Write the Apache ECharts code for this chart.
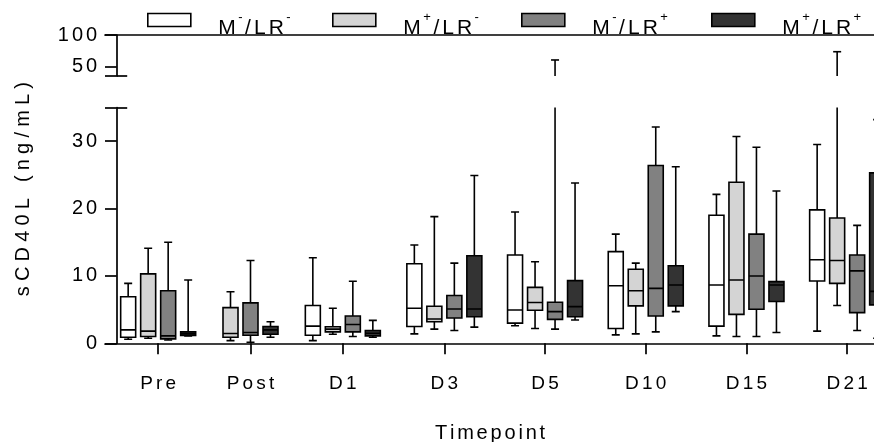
<!DOCTYPE html>
<html>
<head>
<meta charset="utf-8">
<script src="https://cdn.jsdelivr.net/npm/echarts@6/dist/echarts.min.js"></script>
<style>
html, body { margin: 0; padding: 0; background: #fff; }
#chart { width: 874px; height: 442px; }
</style>
</head>
<body>
<div id="chart"></div>
<script>
// categories
const timepoints = ['Pre', 'Post', 'D1', 'D3', 'D5', 'D10', 'D15', 'D21'];
const groupNames = ['M-/LR-', 'M+/LR-', 'M-/LR+', 'M+/LR+'];

// [min, q1, median, q3, max] per timepoint, null = no box
const mMinusLrMinus = [
  [0.6, 0.9, 2.0, 6.9, 8.9], null, [0.4, 1.2, 2.55, 5.6, 12.7], [1.4, 2.5, 5.2, 11.8, 14.6],
  [2.6, 3.0, 4.95, 13.1, 19.5], [1.25, 2.2, 8.55, 13.6, 16.2], [1.1, 2.55, 8.65, 19.0, 22.1], [1.8, 9.25, 12.4, 19.8, 29.5]
];
const mPlusLrMinus = [
  [0.75, 1.0, 1.8, 10.3, 14.1], [0.4, 0.9, 1.45, 5.3, 7.65], [1.35, 1.7, 2.1, 2.45, 5.2], [2.1, 3.2, 3.6, 5.5, 18.8],
  [2.2, 4.9, 6.05, 8.3, 12.1], [1.4, 5.55, 7.8, 11.0, 11.9], [1.0, 4.3, 9.4, 23.9, 30.7], [5.6, 8.9, 12.3, 18.6, 73.5]
];
const mMinusLrPlus = [
  [0.5, 0.65, 1.1, 7.8, 15.0], [0.15, 1.2, 1.6, 6.0, 12.3], [1.0, 1.7, 2.8, 4.05, 9.2], [1.9, 3.75, 5.1, 7.1, 11.9],
  [2.1, 3.55, 4.7, 6.1, 60.4], [1.7, 4.05, 8.15, 26.4, 32.1], [1.0, 5.05, 10.0, 16.2, 29.1], [1.9, 4.55, 10.75, 13.1, 17.5]
];
const mPlusLrPlus = [
  [1.1, 1.15, 1.4, 1.7, 9.4], [0.9, 1.35, 2.0, 2.5, 3.2], [0.9, 1.1, 1.5, 1.9, 3.4], [2.4, 3.95, 5.1, 13.0, 24.9],
  [3.45, 3.95, 5.45, 9.3, 23.8], [4.7, 5.55, 8.65, 11.5, 26.2], [1.6, 6.2, 8.65, 9.15, 22.6], [0.75, 5.7, 7.7, 25.3, 33.2]
];

// axis ticks (broken y axis)
const yLowTicks = [0, 10, 20, 30];
const yHighTicks = [50, 100];
const yLowRange = [0, 35];
const yHighRange = [35, 100];

const groups = [mMinusLrMinus, mPlusLrMinus, mMinusLrPlus, mPlusLrPlus];
const fills = ['#ffffff', '#d4d4d4', '#818181', '#333333'];
const FONT = '"Liberation Sans", Arial, sans-serif';
const LW = 1.6;
const BOX_STEP = 20;
const BOX_W = 15;
const CAP = 8;
const SPLIT = 3; // Pre, Post, D1 sit a bit closer together

// wrap each character in a rich token to get the wide letter spacing
function spaced(text, tok) {
  return text.split('').map(ch => '{' + tok + '|' + ch + '}').join('');
}
function legendText(name) {
  let out = '';
  name.split('').forEach((ch, i) => {
    const sup = (ch === '-' || ch === '+') && i > 0 && /[MR]/.test(name[i - 1]);
    out += '{' + (sup ? 's' : 'c') + '|' + ch + '}';
  });
  return out;
}
const richChar = (size, pad) => ({ fontSize: size, fontFamily: FONT, color: '#000', padding: [0, pad, 0, pad] });

function drawBox(g, base, params, api) {
  const i = api.value(0);
  const members = [];
  groups.forEach((arr, k) => { if (arr[base + i]) members.push(k); });
  const shift = (members.indexOf(g) - (members.length - 1) / 2) * BOX_STEP;
  const x = api.coord([i, 0])[0] + shift;
  const [yMin, yQ1, yMed, yQ3, yMax] = [1, 2, 3, 4, 5].map(d => api.coord([i, api.value(d)])[1]);
  const st = { stroke: '#000', lineWidth: LW, fill: null };
  const line = (x1, y1, x2, y2) => ({ type: 'line', shape: { x1, y1, x2, y2 }, style: st });
  return {
    type: 'group',
    children: [
      line(x, yQ3, x, yMax),
      line(x - CAP / 2, yMax, x + CAP / 2, yMax),
      line(x, yQ1, x, yMin),
      line(x - CAP / 2, yMin, x + CAP / 2, yMin),
      {
        type: 'rect',
        shape: { x: x - BOX_W / 2, y: yQ3, width: BOX_W, height: yQ1 - yQ3 },
        style: { fill: fills[g], stroke: '#000', lineWidth: LW }
      },
      line(x - BOX_W / 2, yMed, x + BOX_W / 2, yMed)
    ]
  };
}

function boxSeries(g, part, low) {
  const base = part === 0 ? 0 : SPLIT;
  const cats = part === 0 ? timepoints.slice(0, SPLIT) : timepoints.slice(SPLIT);
  const data = [];
  cats.forEach((c, i) => {
    const v = groups[g][base + i];
    if (v) data.push([i].concat(v));
  });
  const idx = part + (low ? 0 : 2);
  return {
    type: 'custom',
    name: groupNames[g],
    xAxisIndex: idx,
    yAxisIndex: idx,
    clip: true,
    silent: true,
    itemStyle: { color: fills[g], borderColor: '#000', borderWidth: LW },
    encode: { x: 0, y: [1, 2, 3, 4, 5] },
    renderItem: (params, api) => drawBox(g, base, params, api),
    data
  };
}

const series = [];
[true, false].forEach(low => [0, 1].forEach(part => groups.forEach((arr, g) => series.push(boxSeries(g, part, low)))));

const axisLine = { show: true, lineStyle: { color: '#000', width: 1.7 } };
const noAxis = { show: false };

function catAxis(gridIndex, cats, shown) {
  return {
    type: 'category', gridIndex, data: cats,
    axisLine: noAxis,
    axisTick: shown ? { show: true, alignWithLabel: true, interval: 0, length: 11, lineStyle: { color: '#000', width: 1.7 } } : noAxis,
    axisLabel: shown ? {
      show: true, interval: 0, margin: 31, formatter: v => spaced(v, 't'),
      rich: { t: richChar(19, 1.6) }
    } : noAxis,
    splitLine: noAxis
  };
}
function valAxis(gridIndex, range, ticks, labels, shown) {
  return {
    type: 'value', gridIndex, position: 'left', min: range[0], max: range[1], offset: -4.7,
    show: shown,
    axisLine: axisLine,
    axisTick: { show: true, customValues: ticks, length: 11.7, lineStyle: { color: '#000', width: 1.7 } },
    axisLabel: {
      show: true, customValues: labels, margin: 18,
      formatter: v => spaced(String(v), 't'), rich: { t: richChar(20, 1.5) }
    },
    splitLine: noAxis
  };
}
function breakAxis(gridIndex, range) {
  return {
    type: 'value', gridIndex, position: 'left', min: range[0], max: range[1], offset: -4.7,
    axisLine: noAxis, axisLabel: noAxis, splitLine: noAxis,
    axisTick: { show: true, inside: true, customValues: [35], length: 10.5, lineStyle: { color: '#000', width: 1.7 } }
  };
}

const legendLeft = [147, 332, 521, 711];

const option = {
  animation: false,
  backgroundColor: '#fff',
  textStyle: { fontFamily: FONT },
  grid: [
    { left: 112, top: 107.5, width: 277, height: 235.8 },
    { left: 394, top: 107.5, width: 503.5, height: 235.8 },
    { left: 112, top: 35, width: 277, height: 41 },
    { left: 394, top: 35, width: 503.5, height: 41 },
    { left: 105, top: 35, right: -1, height: 308.3 }
  ].map(g => Object.assign({ containLabel: false, outerBoundsMode: 'none' }, g)),
  xAxis: [
    catAxis(0, timepoints.slice(0, SPLIT), true),
    catAxis(1, timepoints.slice(SPLIT), true),
    catAxis(2, timepoints.slice(0, SPLIT), false),
    catAxis(3, timepoints.slice(SPLIT), false),
    {
      type: 'value', gridIndex: 4, min: 0, max: 1, position: 'bottom',
      axisLine: axisLine, axisTick: noAxis, axisLabel: noAxis, splitLine: noAxis,
      name: spaced('Timepoint', 't'), nameLocation: 'middle', nameGap: 80,
      nameTextStyle: { rich: { t: richChar(20, 1.4) } }
    },
    {
      type: 'value', gridIndex: 4, min: 0, max: 1, position: 'top',
      axisLine: axisLine, axisTick: noAxis, axisLabel: noAxis, splitLine: noAxis
    }
  ],
  yAxis: [
    valAxis(0, yLowRange, yLowTicks.concat([35]), yLowTicks, true),
    valAxis(1, yLowRange, [], [], false),
    valAxis(2, yHighRange, [35].concat(yHighTicks), yHighTicks, true),
    valAxis(3, yHighRange, [], [], false),
    breakAxis(0, yLowRange),
    breakAxis(2, yHighRange),
    {
      type: 'value', gridIndex: 4, position: 'left', min: 0, max: 1,
      axisLine: noAxis, axisTick: noAxis, axisLabel: noAxis, splitLine: noAxis,
      name: spaced('sCD40L (ng/mL)', 't'), nameLocation: 'middle', nameGap: 72, nameRotate: 90,
      nameTextStyle: { rich: { t: richChar(20, 2.6) } }
    }
  ],
  legend: groupNames.map((n, g) => ({
    data: [n],
    left: legendLeft[g],
    top: 11,
    padding: 0,
    icon: 'rect',
    itemWidth: 43,
    itemHeight: 13,
    itemStyle: { borderColor: '#000', borderWidth: LW },
    selectedMode: false,
    formatter: legendText,
    textStyle: {
      padding: [17, 0, 0, 21],
      rich: {
        c: richChar(21, 1.5),
        s: { fontSize: 13, fontFamily: FONT, color: '#000', padding: [0, 1, 22, 1] }
      }
    }
  })),
  series
};

const chart = echarts.init(document.getElementById('chart'));
chart.setOption(option);
</script>
</body>
</html>
